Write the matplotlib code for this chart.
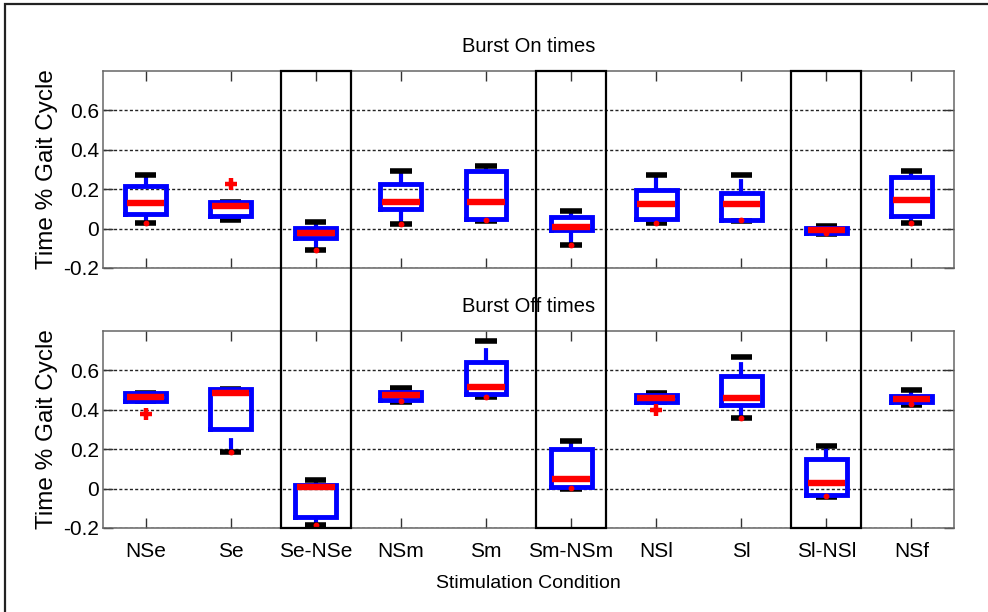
import numpy as np
import matplotlib
matplotlib.use("Agg")
import matplotlib.pyplot as plt
from matplotlib.patches import Rectangle
from matplotlib.transforms import blended_transform_factory

# conditions on the x axis
CONDITIONS = ["NSe", "Se", "Se-NSe", "NSm", "Sm", "Sm-NSm", "NSl", "Sl", "Sl-NSl", "NSf"]
HIGHLIGHT = [3, 6, 9]  # difference columns framed in black

# Burst On times: whisker low, q1, median, q3, whisker high
ON_LO = [0.029, 0.043, -0.111, 0.022, 0.039, -0.084, 0.029, 0.039, -0.029, 0.029]
ON_Q1 = [0.072, 0.065, -0.050, 0.099, 0.051, -0.009, 0.051, 0.044, -0.022, 0.065]
ON_MED = [0.130, 0.113, -0.022, 0.137, 0.137, 0.010, 0.125, 0.125, -0.009, 0.144]
ON_Q3 = [0.215, 0.137, 0.005, 0.227, 0.290, 0.060, 0.198, 0.180, 0.005, 0.260]
ON_HI = [0.270, 0.137, 0.036, 0.292, 0.318, 0.091, 0.270, 0.270, 0.014, 0.290]
ON_DOTS = [0.029, np.nan, -0.111, 0.022, 0.043, -0.084, 0.029, 0.044, -0.024, 0.029]
ON_OUTLIERS = [(2, 0.224)]

# Burst Off times
OFF_LO = [0.443, 0.185, -0.185, 0.439, 0.463, -0.002, 0.439, 0.359, -0.041, 0.424]
OFF_Q1 = [0.443, 0.301, -0.144, 0.451, 0.479, 0.010, 0.439, 0.422, -0.032, 0.441]
OFF_MED = [0.465, 0.485, 0.010, 0.474, 0.518, 0.050, 0.458, 0.458, 0.029, 0.456]
OFF_Q3 = [0.485, 0.503, 0.020, 0.489, 0.644, 0.200, 0.475, 0.573, 0.152, 0.468]
OFF_HI = [0.485, 0.503, 0.041, 0.508, 0.747, 0.244, 0.485, 0.667, 0.217, 0.499]
OFF_DOTS = [np.nan, 0.185, -0.185, 0.443, 0.463, 0.005, np.nan, 0.359, -0.038, 0.427]
OFF_OUTLIERS = [(1, 0.378), (7, 0.397)]

YTICKS = [-0.2, 0, 0.2, 0.4, 0.6]
YTICKLABELS = ["-0.2", "0", "0.2", "0.4", "0.6"]

BOX_HALF = 0.24
CAP_HALF = 0.125

plt.rcParams.update({
    "font.family": ["Liberation Sans", "DejaVu Sans"],
    "lines.scale_dashes": False,
    "axes.edgecolor": "#666666",
})


def draw_boxes(ax, lo, q1, med, q3, hi, dots, outliers):
    x = np.arange(1, len(lo) + 1)
    for i, xi in enumerate(x):
        # whiskers run upward from the lower value, dashed like matlab
        ax.plot([xi, xi], [lo[i], q1[i]], color="blue", lw=3, ls=(0, (10, 5)),
                solid_capstyle="butt", dash_capstyle="butt", zorder=2)
        ax.plot([xi, xi], [q3[i], hi[i]], color="blue", lw=3, ls=(0, (10, 5)),
                solid_capstyle="butt", dash_capstyle="butt", zorder=2)
        for v in (lo[i], hi[i]):
            ax.plot([xi - CAP_HALF, xi + CAP_HALF], [v, v], color="black", lw=4,
                    solid_capstyle="butt", zorder=3)
        ax.plot([xi - BOX_HALF, xi + BOX_HALF, xi + BOX_HALF, xi - BOX_HALF, xi - BOX_HALF],
                [q1[i], q1[i], q3[i], q3[i], q1[i]], color="blue", lw=3.5,
                solid_joinstyle="miter", zorder=4)
        ax.plot([xi - BOX_HALF + 0.02, xi + BOX_HALF - 0.02], [med[i], med[i]],
                color="red", lw=4.6, solid_capstyle="butt", zorder=5)
    ax.plot(x, dots, ls="none", marker="o", ms=3.2, color="red", mec="red", zorder=6)
    for xi, v in outliers:
        ax.plot(xi, v, ls="none", marker="+", ms=8, mew=3.2, color="red", zorder=6)


def style_axes(ax, title, labels):
    ax.set_xlim(0.5, 10.5)
    ax.set_ylim(-0.2, 0.8)
    ax.set_xticks(range(1, len(CONDITIONS) + 1))
    ax.set_yticks(YTICKS)
    ax.set_yticklabels(YTICKLABELS)
    if labels:
        ax.set_xticklabels(CONDITIONS)
    else:
        ax.set_xticklabels([])
    ax.tick_params(direction="in", length=7, width=1, top=True, right=True,
                   labelsize=15, color="#333333")
    ax.tick_params(axis="x", pad=10)
    ax.tick_params(axis="y", pad=3)
    ax.yaxis.grid(True, color="#222222", lw=1.0, ls=(0, (2.2, 1.6)))
    ax.set_axisbelow(True)
    ax.set_title(title, fontsize=14.5, pad=14)
    ax.set_ylabel("Time % Gait Cycle", fontsize=17.5)
    ax.yaxis.set_label_coords(-0.053, 0.5)
    for s in ax.spines.values():
        s.set_linewidth(1.1)


def main():
    fig = plt.figure(figsize=(9.88, 6.12), dpi=100)
    ax_on = fig.add_axes([0.1043, 0.5621, 0.8613, 0.3219])
    ax_off = fig.add_axes([0.1043, 0.1373, 0.8613, 0.3219])

    draw_boxes(ax_on, ON_LO, ON_Q1, ON_MED, ON_Q3, ON_HI, ON_DOTS, ON_OUTLIERS)
    draw_boxes(ax_off, OFF_LO, OFF_Q1, OFF_MED, OFF_Q3, OFF_HI, OFF_DOTS, OFF_OUTLIERS)

    style_axes(ax_on, "Burst On times", labels=False)
    style_axes(ax_off, "Burst Off times", labels=True)
    ax_off.set_xlabel("Stimulation Condition", fontsize=14, labelpad=10)

    # black frames around the difference columns, spanning both panels
    trans = blended_transform_factory(ax_off.transData, fig.transFigure)
    y0, y1 = 0.1373, 0.5621 + 0.3219
    for c in HIGHLIGHT:
        fig.add_artist(Rectangle((c - 0.41, y0), 0.82, y1 - y0, transform=trans,
                                 fill=False, ec="black", lw=1.6, zorder=10))

    # outer figure border (open on the right and bottom)
    fig.add_artist(Rectangle((5 / 988, -0.1), 1.2, 1.1 - 4 / 612,
                             transform=fig.transFigure, fill=False,
                             ec="#222222", lw=1.6, zorder=10))

    fig.savefig("out.png", dpi=100)


if __name__ == "__main__":
    main()
